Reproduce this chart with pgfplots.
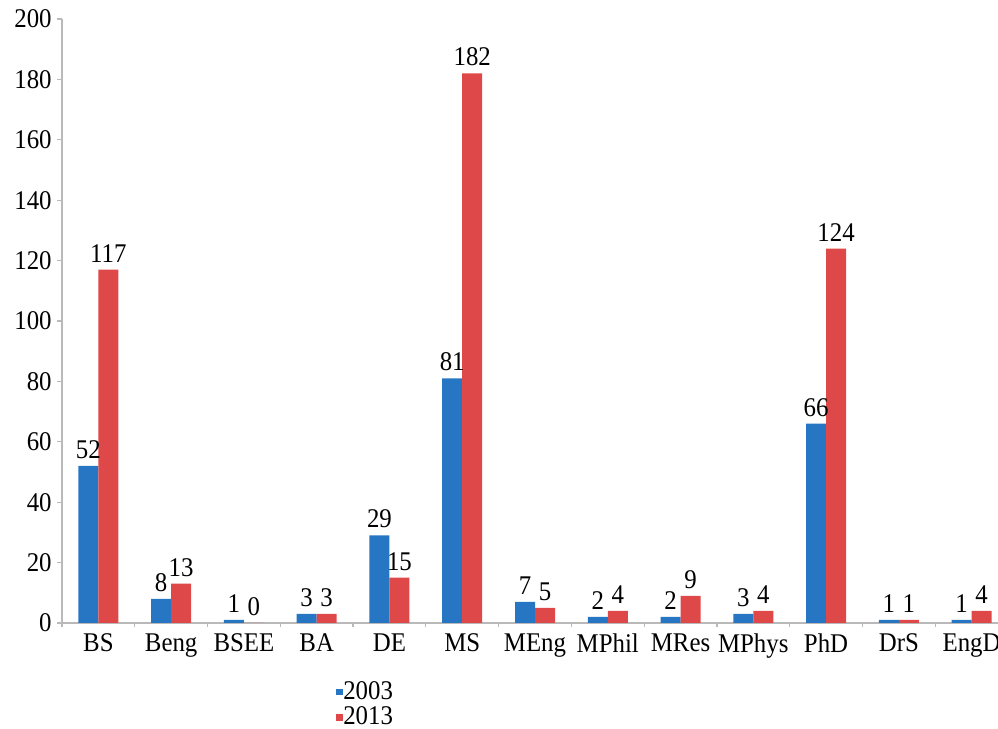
\documentclass[border=0pt]{standalone}
\usepackage{fontspec}
\setmainfont[FakeStretch=0.92]{Liberation Serif}
\usepackage{pgfplots}
\pgfplotsset{compat=1.18}
\definecolor{bblue}{RGB}{38,118,195}
\definecolor{bred}{RGB}{222,72,72}
\definecolor{axgray}{RGB}{185,185,185}

\begin{document}
\begin{tikzpicture}
\useasboundingbox (0,0) rectangle (499pt,364.5pt);
\begin{axis}[
  at={(31pt,53pt)}, anchor=south west,
  scale only axis, width=473pt, height=302pt,
  xmin=-0.5, xmax=12.5, ymin=0, ymax=200,
  axis lines*=left,
  axis line style={axgray, line width=0.9pt},
  tick style={axgray, line width=0.6pt},
  tick align=outside,
  major tick length=2.5pt,
  minor tick length=2pt,
  ytick={0,20,...,200},
  xtick={0,...,12},
  xticklabels={BS,Beng,BSEE,BA,DE,MS,MEng,MPhil,MRes,MPhys,PhD,DrS,EngD},
  major x tick style={draw=none},
  minor xtick={-0.5,0.5,...,12.5},
  ticklabel style={font=\fontsize{13.5}{15.5}\selectfont},
  yticklabel style={inner sep=2.5pt},
  xticklabel style={inner sep=2.5pt},
  /pgf/number format/assume math mode=true,
  ybar, bar width=10pt,
  nodes near coords,
  every node near coord/.append style={font=\fontsize{13.5}{15.5}\selectfont, text=black, inner sep=3.5pt},
  legend image code/.code={\fill[#1] (0pt,-1.6pt) rectangle (3.2pt,1.6pt);},
  legend style={at={(0.283,-0.088)}, anchor=north west, draw=none, fill=none,
    font=\fontsize{13.5}{15.5}\selectfont, row sep=1.5pt,
    nodes={inner sep=0.4pt}},
  legend cell align=left,
]
% 2003
\addplot[fill=bblue, draw=none, bar shift=-5pt] coordinates {
  (0,52) (1,8) (2,1) (3,3) (4,29) (5,81) (6,7) (7,2) (8,2) (9,3) (10,66) (11,1) (12,1)};
% 2013
\addplot[fill=bred, draw=none, bar shift=5pt] coordinates {
  (0,117) (1,13) (2,0) (3,3) (4,15) (5,182) (6,5) (7,4) (8,9) (9,4) (10,124) (11,1) (12,4)};
\legend{2003,2013}
\end{axis}
\end{tikzpicture}
\end{document}
